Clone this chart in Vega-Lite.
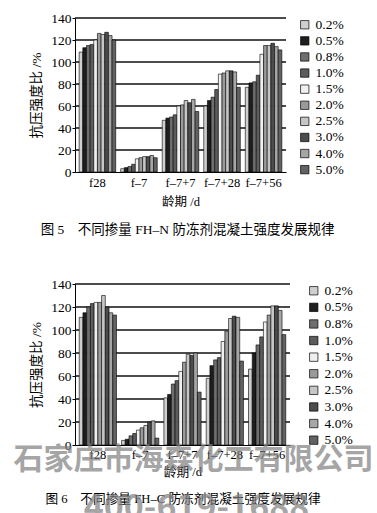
{
  "$schema": "https://vega.github.io/schema/vega-lite/v6.json",
  "padding": {"left": 13, "top": 11, "right": 0, "bottom": 0},
  "spacing": 40,
  "resolve": {
    "scale": {"x": "independent", "y": "independent", "xOffset": "independent", "fill": "independent"},
    "axis": {"x": "independent", "y": "independent"},
    "legend": {"fill": "independent"}
  },
  "datasets": {
    "grid": [{"v": 20}, {"v": 40}, {"v": 60}, {"v": 80}, {"v": 100}, {"v": 120}, {"v": 140}],
    "n": [
      {"cat": "f28", "s": "0.2%", "v": 109}, {"cat": "f28", "s": "0.5%", "v": 113}, {"cat": "f28", "s": "0.8%", "v": 115}, {"cat": "f28", "s": "1.0%", "v": 116}, {"cat": "f28", "s": "1.5%", "v": 120},
      {"cat": "f28", "s": "2.0%", "v": 126}, {"cat": "f28", "s": "2.5%", "v": 125}, {"cat": "f28", "s": "3.0%", "v": 127}, {"cat": "f28", "s": "4.0%", "v": 124}, {"cat": "f28", "s": "5.0%", "v": 120},
      {"cat": "f–7", "s": "0.2%", "v": 3}, {"cat": "f–7", "s": "0.5%", "v": 4}, {"cat": "f–7", "s": "0.8%", "v": 5}, {"cat": "f–7", "s": "1.0%", "v": 7}, {"cat": "f–7", "s": "1.5%", "v": 12},
      {"cat": "f–7", "s": "2.0%", "v": 13}, {"cat": "f–7", "s": "2.5%", "v": 14}, {"cat": "f–7", "s": "3.0%", "v": 14}, {"cat": "f–7", "s": "4.0%", "v": 15}, {"cat": "f–7", "s": "5.0%", "v": 13},
      {"cat": "f–7+7", "s": "0.2%", "v": 47}, {"cat": "f–7+7", "s": "0.5%", "v": 49}, {"cat": "f–7+7", "s": "0.8%", "v": 50}, {"cat": "f–7+7", "s": "1.0%", "v": 52}, {"cat": "f–7+7", "s": "1.5%", "v": 60},
      {"cat": "f–7+7", "s": "2.0%", "v": 61}, {"cat": "f–7+7", "s": "2.5%", "v": 65}, {"cat": "f–7+7", "s": "3.0%", "v": 63}, {"cat": "f–7+7", "s": "4.0%", "v": 66}, {"cat": "f–7+7", "s": "5.0%", "v": 55},
      {"cat": "f–7+28", "s": "0.2%", "v": 60}, {"cat": "f–7+28", "s": "0.5%", "v": 65}, {"cat": "f–7+28", "s": "0.8%", "v": 68}, {"cat": "f–7+28", "s": "1.0%", "v": 75}, {"cat": "f–7+28", "s": "1.5%", "v": 89},
      {"cat": "f–7+28", "s": "2.0%", "v": 90}, {"cat": "f–7+28", "s": "2.5%", "v": 92}, {"cat": "f–7+28", "s": "3.0%", "v": 92}, {"cat": "f–7+28", "s": "4.0%", "v": 91}, {"cat": "f–7+28", "s": "5.0%", "v": 77},
      {"cat": "f–7+56", "s": "0.2%", "v": 77}, {"cat": "f–7+56", "s": "0.5%", "v": 81}, {"cat": "f–7+56", "s": "0.8%", "v": 82}, {"cat": "f–7+56", "s": "1.0%", "v": 88}, {"cat": "f–7+56", "s": "1.5%", "v": 107},
      {"cat": "f–7+56", "s": "2.0%", "v": 115}, {"cat": "f–7+56", "s": "2.5%", "v": 115}, {"cat": "f–7+56", "s": "3.0%", "v": 117}, {"cat": "f–7+56", "s": "4.0%", "v": 114}, {"cat": "f–7+56", "s": "5.0%", "v": 111}
    ],
    "c": [
      {"cat": "f28", "s": "0.2%", "v": 111}, {"cat": "f28", "s": "0.5%", "v": 115}, {"cat": "f28", "s": "0.8%", "v": 120}, {"cat": "f28", "s": "1.0%", "v": 123}, {"cat": "f28", "s": "1.5%", "v": 124},
      {"cat": "f28", "s": "2.0%", "v": 124}, {"cat": "f28", "s": "2.5%", "v": 130}, {"cat": "f28", "s": "3.0%", "v": 120}, {"cat": "f28", "s": "4.0%", "v": 115}, {"cat": "f28", "s": "5.0%", "v": 113},
      {"cat": "f–7", "s": "0.2%", "v": 4}, {"cat": "f–7", "s": "0.5%", "v": 5}, {"cat": "f–7", "s": "0.8%", "v": 8}, {"cat": "f–7", "s": "1.0%", "v": 10}, {"cat": "f–7", "s": "1.5%", "v": 13},
      {"cat": "f–7", "s": "2.0%", "v": 15}, {"cat": "f–7", "s": "2.5%", "v": 17}, {"cat": "f–7", "s": "3.0%", "v": 20}, {"cat": "f–7", "s": "4.0%", "v": 21}, {"cat": "f–7", "s": "5.0%", "v": 6},
      {"cat": "f–7+7", "s": "0.2%", "v": 41}, {"cat": "f–7+7", "s": "0.5%", "v": 44}, {"cat": "f–7+7", "s": "0.8%", "v": 53}, {"cat": "f–7+7", "s": "1.0%", "v": 56}, {"cat": "f–7+7", "s": "1.5%", "v": 64},
      {"cat": "f–7+7", "s": "2.0%", "v": 72}, {"cat": "f–7+7", "s": "2.5%", "v": 79}, {"cat": "f–7+7", "s": "3.0%", "v": 78}, {"cat": "f–7+7", "s": "4.0%", "v": 80}, {"cat": "f–7+7", "s": "5.0%", "v": 46},
      {"cat": "f–7+28", "s": "0.2%", "v": 58}, {"cat": "f–7+28", "s": "0.5%", "v": 69}, {"cat": "f–7+28", "s": "0.8%", "v": 74}, {"cat": "f–7+28", "s": "1.0%", "v": 76}, {"cat": "f–7+28", "s": "1.5%", "v": 90},
      {"cat": "f–7+28", "s": "2.0%", "v": 99}, {"cat": "f–7+28", "s": "2.5%", "v": 110}, {"cat": "f–7+28", "s": "3.0%", "v": 112}, {"cat": "f–7+28", "s": "4.0%", "v": 111}, {"cat": "f–7+28", "s": "5.0%", "v": 73},
      {"cat": "f–7+56", "s": "0.2%", "v": 66}, {"cat": "f–7+56", "s": "0.5%", "v": 80}, {"cat": "f–7+56", "s": "0.8%", "v": 87}, {"cat": "f–7+56", "s": "1.0%", "v": 94}, {"cat": "f–7+56", "s": "1.5%", "v": 107},
      {"cat": "f–7+56", "s": "2.0%", "v": 113}, {"cat": "f–7+56", "s": "2.5%", "v": 121}, {"cat": "f–7+56", "s": "3.0%", "v": 121}, {"cat": "f–7+56", "s": "4.0%", "v": 117}, {"cat": "f–7+56", "s": "5.0%", "v": 96}
    ]
  },
  "vconcat": [
    {
      "width": 211,
      "height": 154,
      "title": {"text": "图 5\u3000不同掺量 FH–N 防冻剂混凝土强度发展规律", "orient": "bottom", "anchor": "start", "frame": "bounds", "fontSize": 13.5, "offset": 15, "dx": 11},
      "encoding": {
        "y": {"field": "v", "type": "quantitative", "scale": {"domain": [0, 140], "nice": false},
              "axis": {"title": "抗压强度比 /%", "tickCount": 7, "grid": false, "tickSize": 3, "labelPadding": 1, "titlePadding": 7, "labelFontSize": 13.5, "titleFontSize": 13.5, "labelOverlap": false}}
      },
      "layer": [
        {
          "data": {"name": "grid"},
          "mark": {"type": "rule", "stroke": "#111", "strokeWidth": 1.3},
          "encoding": {}
        },
        {
          "data": {"name": "n"},
          "mark": {"type": "bar", "stroke": "black", "strokeWidth": 0.6},
          "encoding": {
            "x": {"field": "cat", "type": "nominal", "scale": {"domain": ["f28", "f–7", "f–7+7", "f–7+28", "f–7+56"], "paddingInner": 0.12, "paddingOuter": 0.1},
                  "axis": {"title": "龄期 /d", "labelAngle": 0, "ticks": false, "labelPadding": 4, "titlePadding": 7, "labelFontSize": 12.5, "titleFontSize": 12.5}},
            "xOffset": {"field": "s", "type": "nominal", "scale": {"domain": ["0.2%", "0.5%", "0.8%", "1.0%", "1.5%", "2.0%", "2.5%", "3.0%", "4.0%", "5.0%"], "paddingInner": 0, "paddingOuter": 0}},
            "fill": {"field": "s", "type": "nominal",
                     "scale": {"domain": ["0.2%", "0.5%", "0.8%", "1.0%", "1.5%", "2.0%", "2.5%", "3.0%", "4.0%", "5.0%"], "range": ["#cfcfcf", "#1e1e1e", "#6e6e6e", "#5c5c5c", "#f0f0f0", "#9a9a9a", "#c6c6c6", "#4c4c4c", "#a6a6a6", "#626262"]},
                     "legend": {"title": null, "offset": 12, "rowPadding": 1.1, "labelFontSize": 13.5}}
          }
        }
      ]
    },
    {
      "width": 215,
      "height": 161,
      "resolve": {"scale": {"x": "independent", "y": "independent"}, "axis": {"x": "independent", "y": "independent"}},
      "layer": [
        {
          "data": {"name": "grid"},
          "mark": {"type": "rule", "stroke": "#111", "strokeWidth": 1.3},
          "encoding": {
            "y": {"field": "v", "type": "quantitative", "scale": {"domain": [0, 140], "nice": false}, "axis": null}
          }
        },
        {
          "data": {"name": "c"},
          "mark": {"type": "bar", "stroke": "black", "strokeWidth": 0.6},
          "encoding": {
            "x": {"field": "cat", "type": "nominal", "scale": {"domain": ["f28", "f–7", "f–7+7", "f–7+28", "f–7+56"], "paddingInner": 0.12, "paddingOuter": 0.1},
                  "axis": {"title": ["龄期 /d", "图 6\u3000不同掺量 FH–C 防冻剂混凝土强度发展规律"], "titleLineHeight": 27, "labelAngle": 0, "ticks": false, "labelPadding": 3.5, "titlePadding": 4, "labelFontSize": 12.5, "titleFontSize": 12.7}},
            "xOffset": {"field": "s", "type": "nominal", "scale": {"domain": ["0.2%", "0.5%", "0.8%", "1.0%", "1.5%", "2.0%", "2.5%", "3.0%", "4.0%", "5.0%"], "paddingInner": 0, "paddingOuter": 0}},
            "y": {"field": "v", "type": "quantitative", "scale": {"domain": [0, 140], "nice": false},
                  "axis": {"title": "抗压强度比 /%", "tickCount": 7, "grid": false, "tickSize": 3, "labelPadding": 1, "titlePadding": 7, "labelFontSize": 13.5, "titleFontSize": 13.5, "labelOverlap": false}},
            "fill": {"field": "s", "type": "nominal",
                     "scale": {"domain": ["0.2%", "0.5%", "0.8%", "1.0%", "1.5%", "2.0%", "2.5%", "3.0%", "4.0%", "5.0%"], "range": ["#cfcfcf", "#1e1e1e", "#6e6e6e", "#5c5c5c", "#f0f0f0", "#9a9a9a", "#c6c6c6", "#4c4c4c", "#a6a6a6", "#626262"]},
                     "legend": {"title": null, "offset": 17, "rowPadding": 1.6, "labelFontSize": 13.5}}
          }
        },
        {
          "data": {"values": [{}]},
          "mark": {"type": "text", "text": "石家庄市海森化工有限公司", "font": "Noto Sans CJK SC", "fontWeight": "bold", "fontSize": 30, "fill": "#808080", "opacity": 0.7, "dx": 11, "baseline": "middle", "align": "center"},
          "encoding": {"x": {"datum": "f–7+7", "scale": {"domain": ["f28", "f–7", "f–7+7", "f–7+28", "f–7+56"]}, "axis": null}, "y": {"datum": -13.2, "scale": {"domain": [0, 140], "nice": false}, "axis": null}}
        },
        {
          "data": {"values": [{}]},
          "mark": {"type": "text", "text": "400-619-1688", "font": "Noto Sans CJK SC", "fontWeight": "bold", "fontSize": 34, "fill": "#808080", "opacity": 0.7, "dx": 14, "baseline": "middle", "align": "center"},
          "encoding": {"x": {"datum": "f–7+7", "scale": {"domain": ["f28", "f–7", "f–7+7", "f–7+28", "f–7+56"]}, "axis": null}, "y": {"datum": -56, "scale": {"domain": [0, 140], "nice": false}, "axis": null}}
        }
      ]
    }
  ],
  "config": {
    "view": {"stroke": null},
    "font": "Liberation Serif, Noto Sans CJK SC",
    "axis": {"labelColor": "black", "titleColor": "black", "domainColor": "black", "tickColor": "black", "titleFontWeight": "normal", "labelFont": "Liberation Serif, Noto Sans CJK SC", "titleFont": "Liberation Serif, Noto Sans CJK SC"},
    "legend": {"symbolType": "square", "symbolSize": 70, "symbolStrokeColor": "black", "symbolStrokeWidth": 0.7, "labelColor": "black", "labelOffset": 4, "labelFont": "Liberation Serif, Noto Sans CJK SC"},
    "title": {"fontWeight": "normal", "color": "black", "font": "Liberation Serif, Noto Sans CJK SC"}
  }
}
